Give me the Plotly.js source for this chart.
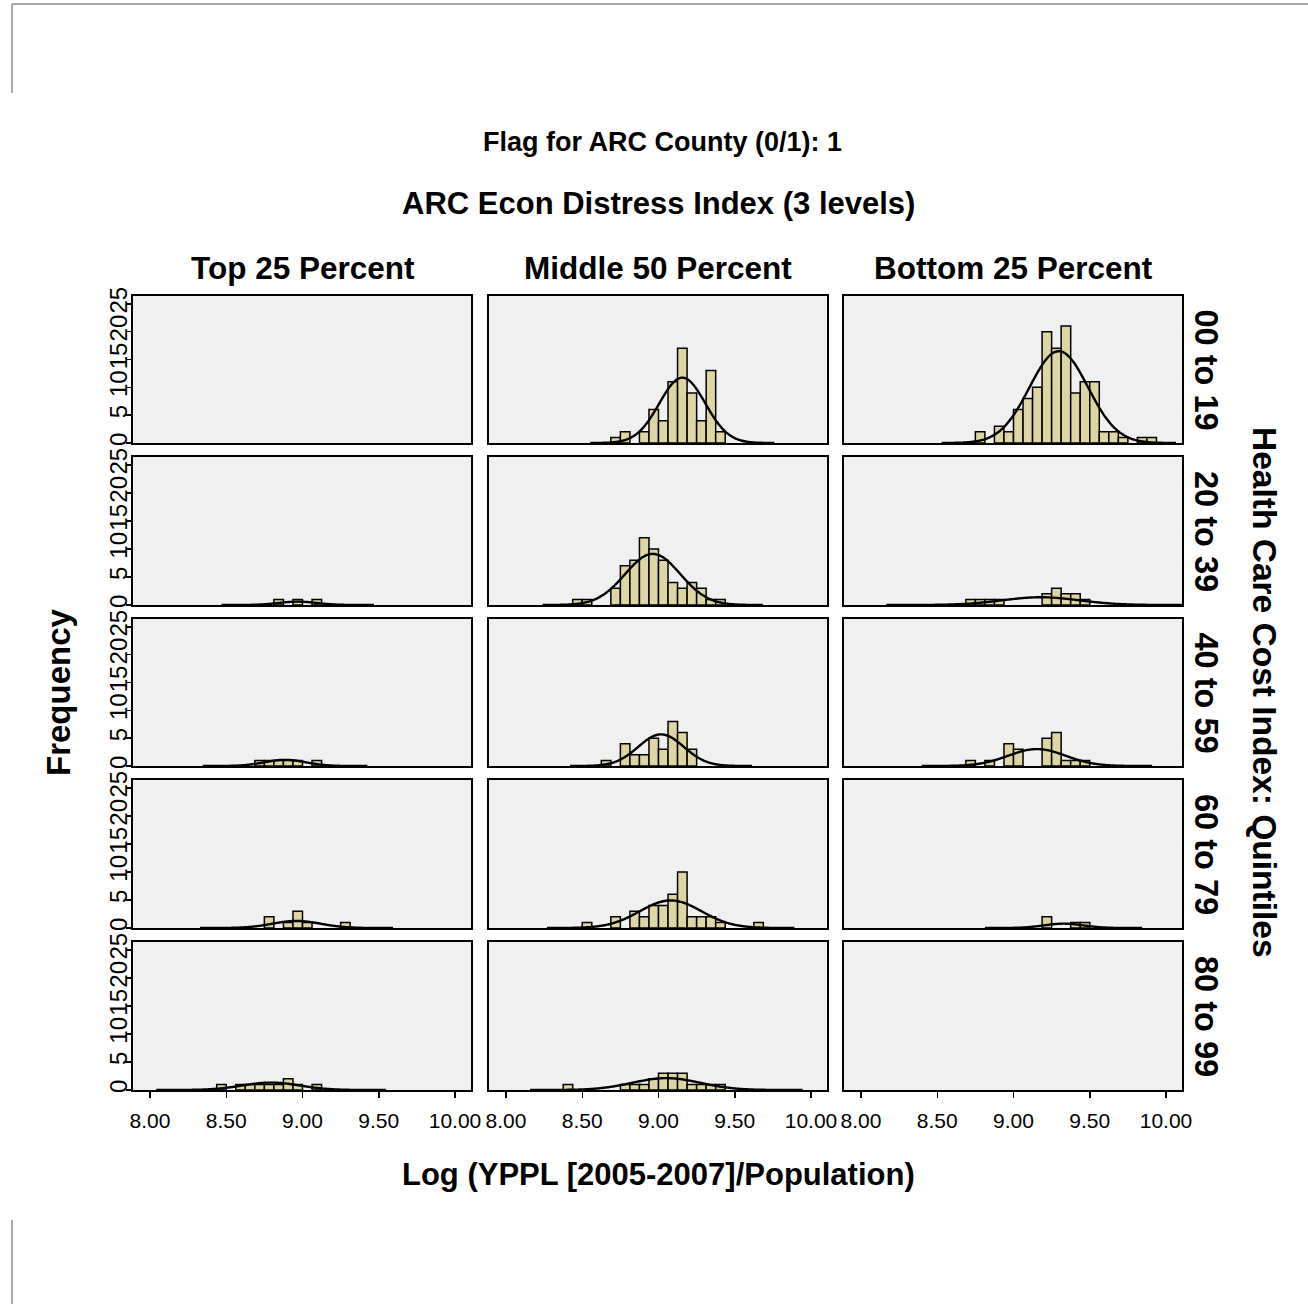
<!DOCTYPE html>
<html><head><meta charset="utf-8">
<script src="https://cdn.plot.ly/plotly-3.0.1.min.js"></script>
<style>html,body{margin:0;padding:0;background:#fff;} #chart{width:1308px;height:1304px;}</style>
</head><body><div id="chart"></div>
<script>
// ---------- data ----------
const colLabels = ['Top 25 Percent', 'Middle 50 Percent', 'Bottom 25 Percent'];
const rowLabels = ['00 to 19', '20 to 39', '40 to 59', '60 to 79', '80 to 99'];
const xTickVals = [8.0, 8.5, 9.0, 9.5, 10.0];
const xTickText = ['8.00', '8.50', '9.00', '9.50', '10.00'];
const yTickVals = [0, 5, 10, 15, 20, 25];
const binWidth = 0.0625;

// bin left edges and counts, one pair per panel (row r, column c)
const r1c1_bins = [];
const r1c1_counts = [];
const r1c2_bins = [8.6875, 8.75, 8.875, 8.9375, 9.0, 9.0625, 9.125, 9.1875, 9.25, 9.3125, 9.375];
const r1c2_counts = [1, 2, 2, 6, 4, 11, 17, 9, 4, 13, 2];
const r1c3_bins = [8.75, 8.875, 8.9375, 9.0, 9.0625, 9.125, 9.1875, 9.25, 9.3125, 9.375, 9.4375, 9.5, 9.5625, 9.625, 9.6875, 9.8125, 9.875];
const r1c3_counts = [2, 3, 2, 6, 8, 10, 20, 17, 21, 9, 11, 11, 2, 2, 1, 1, 1];

const r2c1_bins = [8.8125, 8.9375, 9.0625];
const r2c1_counts = [1, 1, 1];
const r2c2_bins = [8.4375, 8.5, 8.6875, 8.75, 8.8125, 8.875, 8.9375, 9.0, 9.0625, 9.125, 9.1875, 9.25, 9.3125, 9.375];
const r2c2_counts = [1, 1, 3, 7, 8, 12, 10, 8, 4, 3, 4, 3, 1, 1];
const r2c3_bins = [8.6875, 8.75, 8.8125, 8.875, 9.1875, 9.25, 9.3125, 9.375, 9.4375];
const r2c3_counts = [1, 1, 1, 1, 2, 3, 2, 2, 1];

const r3c1_bins = [8.6875, 8.75, 8.8125, 8.875, 8.9375, 9.0625];
const r3c1_counts = [1, 1, 1, 1, 1, 1];
const r3c2_bins = [8.625, 8.75, 8.8125, 8.875, 8.9375, 9.0, 9.0625, 9.125, 9.1875];
const r3c2_counts = [1, 4, 2, 2, 5, 3, 8, 6, 3];
const r3c3_bins = [8.6875, 8.8125, 8.9375, 9.0, 9.1875, 9.25, 9.3125, 9.375, 9.4375];
const r3c3_counts = [1, 1, 4, 3, 5, 6, 1, 1, 1];

const r4c1_bins = [8.75, 8.875, 8.9375, 9.0, 9.25];
const r4c1_counts = [2, 1, 3, 1, 1];
const r4c2_bins = [8.5, 8.6875, 8.8125, 8.875, 8.9375, 9.0, 9.0625, 9.125, 9.1875, 9.25, 9.3125, 9.375, 9.625];
const r4c2_counts = [1, 2, 3, 2, 4, 4, 6, 10, 2, 2, 2, 1, 1];
const r4c3_bins = [9.1875, 9.375, 9.4375];
const r4c3_counts = [2, 1, 1];

const r5c1_bins = [8.4375, 8.5625, 8.625, 8.6875, 8.75, 8.8125, 8.875, 8.9375, 9.0625];
const r5c1_counts = [1, 1, 1, 1, 1, 1, 2, 1, 1];
const r5c2_bins = [8.375, 8.75, 8.8125, 8.875, 8.9375, 9.0, 9.0625, 9.125, 9.1875, 9.25, 9.3125, 9.375];
const r5c2_counts = [1, 1, 1, 1, 2, 3, 3, 3, 1, 1, 1, 1];
const r5c3_bins = [];
const r5c3_counts = [];

const panelBins = [
  [r1c1_bins, r1c2_bins, r1c3_bins],
  [r2c1_bins, r2c2_bins, r2c3_bins],
  [r3c1_bins, r3c2_bins, r3c3_bins],
  [r4c1_bins, r4c2_bins, r4c3_bins],
  [r5c1_bins, r5c2_bins, r5c3_bins]
];
const panelCounts = [
  [r1c1_counts, r1c2_counts, r1c3_counts],
  [r2c1_counts, r2c2_counts, r2c3_counts],
  [r3c1_counts, r3c2_counts, r3c3_counts],
  [r4c1_counts, r4c2_counts, r4c3_counts],
  [r5c1_counts, r5c2_counts, r5c3_counts]
];

// ---------- layout geometry ----------
const W = 1308, H = 1304;
const colPx = [[133, 471], [489, 827], [844, 1182]];
const rowPx = [[296, 443], [457, 605], [619, 766], [780, 928], [942, 1090]];
const pxPerUnit = 152.5, x0px = 17; // 8.00 sits 17px right of the panel's left edge
const xRange = [8 - x0px / pxPerUnit, 8 + (338 - x0px) / pxPerUnit];
const yRange = [0, 26.4];
const FONT = 'Liberation Sans, Arial, sans-serif';
const barFill = '#ddd6a2';

const px = v => v / W;
const py = v => 1 - v / H;

const traces = [];
const layout = {
  width: W, height: H,
  margin: {l: 0, r: 0, t: 0, b: 0},
  paper_bgcolor: '#ffffff',
  plot_bgcolor: '#f0f0f0',
  showlegend: false,
  bargap: 0,
  font: {family: FONT, color: '#000'},
  annotations: [],
  shapes: []
};

for (let r = 0; r < 5; r++) {
  for (let c = 0; c < 3; c++) {
    const idx = r * 3 + c + 1;
    const xa = idx === 1 ? 'x' : 'x' + idx;
    const ya = idx === 1 ? 'y' : 'y' + idx;
    const xk = idx === 1 ? 'xaxis' : 'xaxis' + idx;
    const yk = idx === 1 ? 'yaxis' : 'yaxis' + idx;
    layout[xk] = {
      domain: [px(colPx[c][0]), px(colPx[c][1])],
      range: xRange, anchor: ya,
      showline: true, mirror: true, linecolor: '#000', linewidth: 2,
      showgrid: false, zeroline: false,
      tickmode: 'array', tickvals: xTickVals, ticktext: xTickText,
      ticks: r === 4 ? 'outside' : '', ticklen: 6, tickwidth: 1.5, tickcolor: '#000',
      showticklabels: r === 4, ticklabelstandoff: 5,
      tickfont: {family: FONT, size: 21, color: '#000'}
    };
    layout[yk] = {
      domain: [py(rowPx[r][1]), py(rowPx[r][0])],
      range: yRange, anchor: xa,
      showline: true, mirror: true, linecolor: '#000', linewidth: 2,
      showgrid: false, zeroline: false,
      tickmode: 'array', tickvals: yTickVals,
      ticks: c === 0 ? 'outside' : '', ticklen: 5, tickwidth: 1.5, tickcolor: '#000',
      showticklabels: c === 0, tickangle: -90, ticklabelstandoff: -11,
      tickfont: {family: FONT, size: 24, color: '#000'}
    };
    const bins = panelBins[r][c];
    const counts = panelCounts[r][c];
    // bar trace (empty panels still get an empty trace so their frame is drawn)
    traces.push({
      type: 'bar', xaxis: xa, yaxis: ya,
      x: bins.map(b => b + binWidth / 2), y: counts, width: binWidth,
      marker: {color: barFill, line: {color: '#000', width: 1.5}},
      hoverinfo: 'skip'
    });
    if (bins.length) {
      // fitted normal curve from the panel's own histogram
      let n = 0, s = 0;
      bins.forEach((b, i) => { n += counts[i]; s += counts[i] * (b + binWidth / 2); });
      const mean = s / n;
      let ss = 0;
      bins.forEach((b, i) => { ss += counts[i] * Math.pow(b + binWidth / 2 - mean, 2); });
      const sd = Math.sqrt(ss / Math.max(n - 1, 1));
      const cx = [], cy = [];
      const lo = mean - 4 * sd, hi = mean + 4 * sd;
      for (let k = 0; k <= 200; k++) {
        const xv = lo + (hi - lo) * k / 200;
        cx.push(xv);
        cy.push(n * binWidth / (sd * Math.sqrt(2 * Math.PI)) * Math.exp(-0.5 * Math.pow((xv - mean) / sd, 2)));
      }
      traces.push({
        type: 'scatter', mode: 'lines', xaxis: xa, yaxis: ya,
        x: cx, y: cy, line: {color: '#000', width: 2.4, shape: 'spline'},
        hoverinfo: 'skip'
      });
    }
  }
}

function ann(text, x, y, size, angle) {
  layout.annotations.push({
    text: '<b>' + text + '</b>', xref: 'paper', yref: 'paper',
    x: px(x), y: py(y), xanchor: 'center', yanchor: 'middle',
    showarrow: false, textangle: angle || 0,
    font: {family: FONT, size: size, color: '#000'}
  });
}
ann('Flag for ARC County (0/1): 1', 662, 142, 27);
ann('ARC Econ Distress Index (3 levels)', 658, 203, 31);
const colCenters = [303, 658, 1013];
colLabels.forEach((t, i) => ann(t, colCenters[i], 268, 31.5));
rowLabels.forEach((t, i) => ann(t, 1206, (rowPx[i][0] + rowPx[i][1]) / 2, 32.5, 90));
ann('Health Care Cost Index: Quintiles', 1265, 692, 33.5, 90);
ann('Frequency', 58, 692, 33, -90);
ann('Log (YPPL [2005-2007]/Population)', 658, 1174, 31);

// frame lines from the original figure
const frame = [[12, 4, 1308, 4], [12, 4, 12, 93], [12, 1220, 12, 1304]];
frame.forEach(f => layout.shapes.push({
  type: 'line', xref: 'paper', yref: 'paper',
  x0: px(f[0]), y0: py(f[1]), x1: px(f[2]), y1: py(f[3]),
  line: {color: '#8c8c8c', width: 1.5}
}));

Plotly.newPlot('chart', traces, layout, {staticPlot: true, displayModeBar: false});
</script>
</body></html>
